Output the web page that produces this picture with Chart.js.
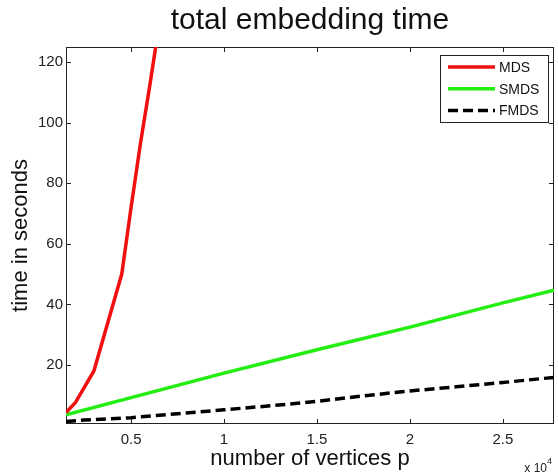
<!DOCTYPE html>
<html>
<head>
<meta charset="utf-8">
<script src="https://cdn.jsdelivr.net/npm/chart.js@4"></script>
<style>
  body { margin: 0; background: #fff; }
  #wrap { width: 558px; height: 474px; }
</style>
</head>
<body>
<div id="wrap"><canvas id="myChart" width="558" height="474"></canvas></div>
<script>
// values (x = number of vertices)
const mdsX = [1500, 2000, 3000, 4500, 5000, 5500, 6000, 6500]
const mdsY = [4.3, 7.5, 18, 50, 72, 93, 112, 132]

const smdsX = [1500, 5000, 10000, 15000, 20000, 25000, 27750]
const smdsY = [3.5, 9.2, 17.3, 25, 32.5, 40.5, 44.7]

const fmdsX = [1500, 2500, 5000, 7500, 10000, 12500, 15000, 17500, 20000, 22500, 25000, 27750]
const fmdsY = [1.3, 1.8, 2.6, 3.9, 5.2, 6.5, 8, 9.8, 11.4, 12.8, 14.2, 15.9]

const labels = ['MDS', 'SMDS', 'FMDS']
const xTicks = [5000, 10000, 15000, 20000, 25000]
const yTicks = [20, 40, 60, 80, 100, 120]

const FONT = 'Liberation Sans, Arial, sans-serif'

function pts(xs, ys) {
  return xs.map((x, i) => ({ x: x, y: ys[i] }))
}

// matlab style box with inward ticks
const boxPlugin = {
  id: 'box',
  beforeDatasetsDraw(chart) {
    const { ctx, chartArea: a, scales } = chart
    ctx.save()
    ctx.strokeStyle = '#222'
    ctx.lineWidth = 1
    ctx.strokeRect(Math.round(a.left) + 0.5, Math.round(a.top) + 0.5,
      Math.round(a.right - a.left) - 1, Math.round(a.bottom - a.top) - 1)
    ctx.beginPath()
    xTicks.forEach(v => {
      const px = Math.round(scales.x.getPixelForValue(v)) + 0.5
      ctx.moveTo(px, a.bottom); ctx.lineTo(px, a.bottom - 5)
      ctx.moveTo(px, a.top); ctx.lineTo(px, a.top + 5)
    })
    yTicks.forEach(v => {
      const py = Math.round(scales.y.getPixelForValue(v)) + 0.5
      ctx.moveTo(a.left, py); ctx.lineTo(a.left + 5, py)
      ctx.moveTo(a.right, py); ctx.lineTo(a.right - 5, py)
    })
    ctx.stroke()
    ctx.restore()
  },
  afterDraw(chart) {
    const { ctx } = chart
    ctx.save()
    // legend box
    const bx = 440, by = 55, bw = 108, bh = 67
    ctx.fillStyle = '#fff'
    ctx.fillRect(bx, by, bw, bh)
    ctx.strokeStyle = '#222'
    ctx.lineWidth = 1
    ctx.strokeRect(bx + 0.5, by + 0.5, bw, bh)
    chart.data.datasets.forEach((ds, i) => {
      const y = 67 + i * 21.7
      ctx.beginPath()
      ctx.strokeStyle = ds.borderColor
      ctx.lineWidth = ds.borderWidth
      ctx.setLineDash(ds.borderDash || [])
      ctx.moveTo(448, y); ctx.lineTo(495, y)
      ctx.stroke()
      ctx.setLineDash([])
      ctx.fillStyle = '#111'
      ctx.font = '14px ' + FONT
      ctx.textAlign = 'left'
      ctx.textBaseline = 'middle'
      ctx.fillText(ds.label, 499, y + 1)
    })
    // x 10^4 multiplier
    ctx.fillStyle = '#222'
    ctx.font = '12px ' + FONT
    ctx.textAlign = 'right'
    ctx.textBaseline = 'alphabetic'
    ctx.fillText('x 10', 547, 472)
    ctx.font = '9px ' + FONT
    ctx.textAlign = 'left'
    ctx.fillText('4', 547, 464)
    ctx.restore()
  }
}

const ctx = document.getElementById('myChart')

new Chart(ctx, {
  type: 'line',
  data: {
    datasets: [
      { label: labels[0], data: pts(mdsX, mdsY), borderColor: '#f01010', borderWidth: 3.5 },
      { label: labels[1], data: pts(smdsX, smdsY), borderColor: '#22ee11', borderWidth: 3.5 },
      { label: labels[2], data: pts(fmdsX, fmdsY), borderColor: '#000', borderWidth: 3.5, borderDash: [10, 5] }
    ]
  },
  options: {
    responsive: false,
    animation: false,
    clip: 0,
    elements: { point: { radius: 0 }, line: { tension: 0, borderCapStyle: 'butt' } },
    layout: { padding: { right: 4 } },
    plugins: {
      legend: { display: false },
      tooltip: { enabled: false },
      title: {
        display: true,
        text: 'total embedding time',
        fullSize: false,
        color: '#111',
        font: { family: FONT, size: 30, weight: 'normal' },
        padding: { top: 3, bottom: 8 }
      }
    },
    scales: {
      x: {
        type: 'linear',
        min: 1500,
        max: 27750,
        grid: { display: false, drawTicks: false },
        border: { display: false },
        afterFit(s) { s.height = 50 },
        afterBuildTicks(s) { s.ticks = xTicks.map(v => ({ value: v })) },
        ticks: {
          maxRotation: 0,
          autoSkip: false,
          padding: 7,
          color: '#222',
          font: { family: FONT, size: 15 },
          callback: v => String(v / 10000)
        },
        title: {
          display: true,
          text: 'number of vertices p',
          color: '#111',
          font: { family: FONT, size: 22 },
          padding: { top: 0, bottom: 2 }
        }
      },
      y: {
        min: 0.5,
        max: 125,
        grid: { display: false, drawTicks: false },
        border: { display: false },
        afterFit(s) { s.width = 66 },
        afterBuildTicks(s) { s.ticks = yTicks.map(v => ({ value: v })) },
        ticks: {
          padding: 3,
          color: '#222',
          font: { family: FONT, size: 15 }
        },
        title: {
          display: true,
          text: 'time in seconds',
          color: '#111',
          font: { family: FONT, size: 22 },
          padding: { top: 7.5, bottom: 0 }
        }
      }
    }
  },
  plugins: [boxPlugin]
})
</script>
</body>
</html>
